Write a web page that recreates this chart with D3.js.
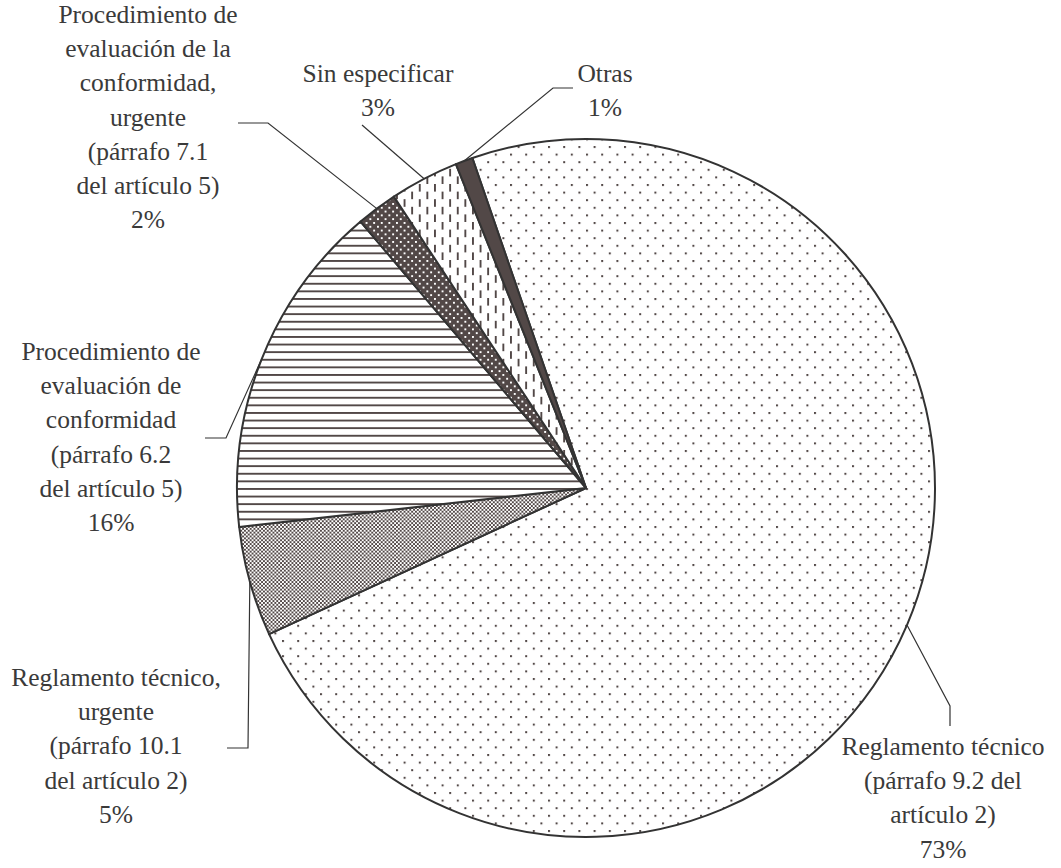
<!DOCTYPE html>
<html>
<head>
<meta charset="utf-8">
<script src="https://cdn.jsdelivr.net/npm/d3@7"></script>
<style>
  html, body { margin: 0; padding: 0; background: #fff; }
  svg { display: block; }
</style>
</head>
<body>
<svg id="chart" width="1061" height="868"></svg>
<script>
// ---------- DATA ----------
const categories = [
  "Reglamento técnico (párrafo 9.2 del artículo 2)",
  "Reglamento técnico, urgente (párrafo 10.1 del artículo 2)",
  "Procedimiento de evaluación de conformidad (párrafo 6.2 del artículo 5)",
  "Procedimiento de evaluación de la conformidad, urgente (párrafo 7.1 del artículo 5)",
  "Sin especificar",
  "Otras"
];
const values = [73.4, 5.1, 15.6, 1.9, 3.2, 0.8];
const labelLines = [
  ["Reglamento técnico", "(párrafo 9.2 del", "artículo 2)"],
  ["Reglamento técnico,", "urgente", "(párrafo 10.1", "del artículo 2)"],
  ["Procedimiento de", "evaluación de", "conformidad", "(párrafo 6.2", "del artículo 5)"],
  ["Procedimiento de", "evaluación de la", "conformidad,", "urgente", "(párrafo 7.1", "del artículo 5)"],
  ["Sin especificar"],
  ["Otras"]
];
const patternIds = ["pDots", "pChecker", "pHLines", "pDarkDots", "pVDash", "pSolid"];

// ---------- LAYOUT ----------
const W = 1061, H = 868;
const cx = 586, cy = 488, R = 349;
const startDeg = -19;
const lineH = 34.2;
const fontSize = 25.5;
const ink = "#524847";
const textColor = "#3a3a3a";

// label placement: center x, first baseline, leader bend points (after the arc point)
const labelLayout = [
  { x: 943, y: 755, bends: [[950, 706], [950, 726]] },
  { x: 116, y: 686, bends: [[248, 748], [227, 748]] },
  { x: 111, y: 360, bends: [[226, 438], [205, 438]] },
  { x: 148, y: 23,  bends: [[268, 123], [238, 123]] },
  { x: 378, y: 82,  bends: [[362, 125]] },
  { x: 605, y: 82,  bends: [[553, 88], [573, 88]] }
];

const svg = d3.select("#chart");
svg.append("rect").attr("width", W).attr("height", H).attr("fill", "#fff");

// ---------- PATTERNS ----------
const defs = svg.append("defs");
function pat(id, w, h) {
  return defs.append("pattern").attr("id", id).attr("patternUnits", "userSpaceOnUse")
    .attr("width", w).attr("height", h);
}
// sparse staggered dots
let p = pat("pDots", 15.2, 15.2);
p.append("rect").attr("width", 15.2).attr("height", 15.2).attr("fill", "#fff");
p.append("rect").attr("x", 0).attr("y", 0).attr("width", 2).attr("height", 2).attr("fill", ink);
p.append("rect").attr("x", 7.6).attr("y", 7.6).attr("width", 2).attr("height", 2).attr("fill", ink);
// fine checker
p = pat("pChecker", 3.8, 3.8);
p.append("rect").attr("width", 3.8).attr("height", 3.8).attr("fill", "#fff");
p.append("rect").attr("x", 0).attr("y", 0).attr("width", 1.9).attr("height", 1.9).attr("fill", ink);
p.append("rect").attr("x", 1.9).attr("y", 1.9).attr("width", 1.9).attr("height", 1.9).attr("fill", ink);
// horizontal lines
p = pat("pHLines", 10, 7.6);
p.append("rect").attr("width", 10).attr("height", 7.6).attr("fill", "#fff");
p.append("rect").attr("x", 0).attr("y", 0).attr("width", 10).attr("height", 1.9).attr("fill", ink);
// dark with white dots
p = pat("pDarkDots", 7.6, 7.6);
p.append("rect").attr("width", 7.6).attr("height", 7.6).attr("fill", ink);
p.append("rect").attr("x", 0).attr("y", 0).attr("width", 1.9).attr("height", 1.9).attr("fill", "#fff");
p.append("rect").attr("x", 3.8).attr("y", 3.8).attr("width", 1.9).attr("height", 1.9).attr("fill", "#fff");
// vertical dashes
p = pat("pVDash", 15.2, 15.2);
p.append("rect").attr("width", 15.2).attr("height", 15.2).attr("fill", "#fff");
p.append("rect").attr("x", 0).attr("y", 0).attr("width", 1.9).attr("height", 7.6).attr("fill", ink);
p.append("rect").attr("x", 7.6).attr("y", 7.6).attr("width", 1.9).attr("height", 7.6).attr("fill", ink);
// solid
p = pat("pSolid", 4, 4);
p.append("rect").attr("width", 4).attr("height", 4).attr("fill", ink);

// ---------- PIE ----------
const total = d3.sum(values);
const a0 = startDeg * Math.PI / 180;
const pie = d3.pie().sort(null).value(d => d).startAngle(a0).endAngle(a0 + 2 * Math.PI);
const arcs = pie(values);
const arc = d3.arc().innerRadius(0).outerRadius(R);

const g = svg.append("g").attr("transform", `translate(${cx},${cy})`);
g.selectAll("path.slice").data(arcs).join("path")
  .attr("class", "slice")
  .attr("d", arc)
  .attr("fill", (d, i) => `url(#${patternIds[i]})`)
  .attr("stroke", "#333")
  .attr("stroke-width", 2)
  .attr("stroke-linejoin", "round");

// ---------- LEADERS ----------
const lineGen = d3.line();
arcs.forEach((d, i) => {
  const mid = (d.startAngle + d.endAngle) / 2;
  const px = cx + R * Math.sin(mid);
  const py = cy - R * Math.cos(mid);
  const pts = [[px, py]].concat(labelLayout[i].bends);
  svg.append("path").attr("d", lineGen(pts))
    .attr("fill", "none").attr("stroke", "#333").attr("stroke-width", 1.2);
});

// ---------- LABELS ----------
arcs.forEach((d, i) => {
  const L = labelLayout[i];
  const pct = Math.round(values[i] / total * 100) + "%";
  const lines = labelLines[i].concat([pct]);
  const t = svg.append("text")
    .attr("text-anchor", "middle")
    .attr("font-family", "'Liberation Serif', 'Times New Roman', serif")
    .attr("font-size", fontSize)
    .attr("fill", textColor);
  lines.forEach((ln, k) => {
    t.append("tspan").attr("x", L.x).attr("y", L.y + k * lineH).text(ln);
  });
});
</script>
</body>
</html>
